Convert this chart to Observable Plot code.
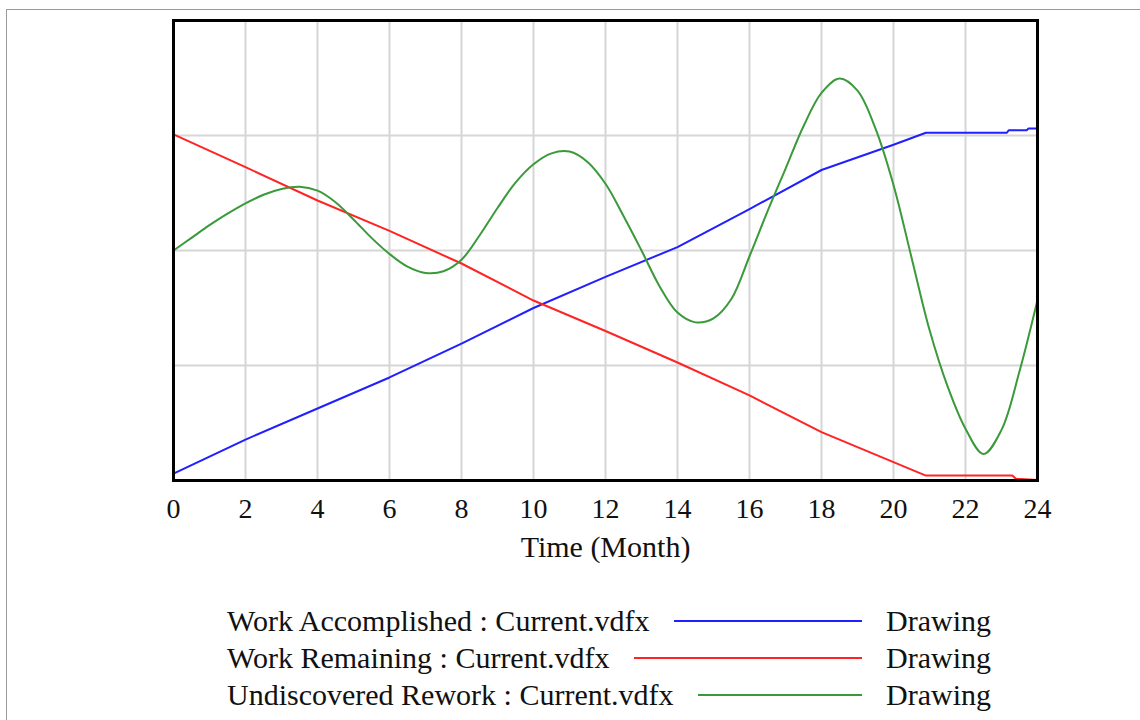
<!DOCTYPE html>
<html>
<head>
<meta charset="utf-8">
<script src="https://cdn.jsdelivr.net/npm/d3@7"></script>
<script src="https://cdn.jsdelivr.net/npm/@observablehq/plot@0.6"></script>
<style>
  html, body { margin: 0; padding: 0; background: #fff; width: 1140px; height: 720px; overflow: hidden; }
  #border { position: absolute; left: 6px; top: 9px; width: 1200px; height: 800px; border: 1.5px solid #9a9a9a; }
  #chart { position: absolute; left: 0; top: 0; }
  #legend { position: absolute; left: 227px; top: 602px; font-family: "Liberation Serif", "Times New Roman", serif; font-size: 30px; color: #111; }
  .row { display: flex; align-items: center; height: 37px; white-space: nowrap; }
  .lead { display: flex; align-items: center; width: 635px; flex: none; }
  .swatch { flex: 1; margin-left: 24px; height: 0; border-top: 2px solid; }
  .tail { margin-left: 24px; }
</style>
</head>
<body>
<div id="border"></div>
<div id="chart"></div>
<div id="legend"></div>
<script>
// ---- Data ----
const xTicks = [0, 2, 4, 6, 8, 10, 12, 14, 16, 18, 20, 22, 24];
const yGrid = [100, 200, 300];
const xLabel = "Time (Month)";

const seriesNames = [
  "Work Accomplished : Current.vdfx",
  "Work Remaining : Current.vdfx",
  "Undiscovered Rework : Current.vdfx"
];
const seriesColors = ["#1f1fff", "#ff2424", "#3a9a3a"];
const runLabel = "Drawing";

const accomplishedTime = [0, 2, 4, 6, 8, 10, 12, 14, 16, 18, 20, 20.9, 23.15, 23.2, 23.7, 23.75, 24];
const accomplishedValue = [6, 35.6, 62.6, 89.6, 119, 150, 177, 203, 236, 270, 292, 302.4, 302.4, 304.6, 304.6, 306, 306];

const remainingTime = [0, 2, 4, 6, 8, 10, 12, 14, 16, 18, 20, 20.9, 23.3, 23.4, 24];
const remainingValue = [301, 272.5, 243.5, 217, 188.7, 156.5, 130, 102.6, 74, 42, 16, 4.3, 4.3, 1.5, 0.5];

const reworkTime = [0, 0.5, 1, 1.5, 2, 2.5, 3, 3.5, 4, 4.5, 5, 5.5, 6, 6.5, 7, 7.5, 8, 8.5, 9, 9.5, 10, 10.5, 11, 11.5, 12, 12.5, 13, 13.5, 14, 14.5, 15, 15.5, 16, 16.5, 17, 17.5, 18, 18.5, 19, 19.5, 20, 20.5, 21, 21.5, 22, 22.5, 23, 23.5, 24];
const reworkValue = [200, 211, 222, 232, 241, 248.5, 253.5, 255.5, 252, 242, 227, 211, 197, 186, 180.5, 182, 192, 213, 237, 259, 275, 284.5, 286, 277, 258, 230, 200, 169, 146, 137.5, 141, 158, 195, 234, 271, 308, 337, 349.5, 339, 306, 257, 194, 131, 82, 45, 23, 44, 95, 157];

// ---- Build tables ----
const toRows = (ts, vs) => ts.map((t, i) => ({t, v: vs[i]}));
const accomplished = toRows(accomplishedTime, accomplishedValue);
const remaining = toRows(remainingTime, remainingValue);
const rework = toRows(reworkTime, reworkValue);

const serif = "'Liberation Serif', 'Times New Roman', serif";

const chart = Plot.plot({
  width: 1140,
  height: 570,
  marginLeft: 173,
  marginRight: 103,
  marginTop: 20,
  marginBottom: 90,
  style: {fontFamily: serif, background: "transparent", color: "#111"},
  x: {domain: [0, 24]},
  y: {domain: [0, 400], axis: null},
  marks: [
    Plot.gridX(xTicks.filter(d => d > 0 && d < 24), {stroke: "#d6d6d6", strokeOpacity: 1, strokeWidth: 2}),
    Plot.gridY(yGrid, {stroke: "#d6d6d6", strokeOpacity: 1, strokeWidth: 2}),
    Plot.line(accomplished, {x: "t", y: "v", stroke: seriesColors[0], strokeWidth: 2}),
    Plot.line(remaining, {x: "t", y: "v", stroke: seriesColors[1], strokeWidth: 2}),
    Plot.line(rework, {x: "t", y: "v", stroke: seriesColors[2], strokeWidth: 2, curve: "catmull-rom"}),
    Plot.frame({stroke: "#000", strokeWidth: 3}),
    Plot.axisX(xTicks, {
      tickSize: 0,
      tickPadding: 18,
      fontSize: 28,
      fill: "#111",
      label: null
    }),
    Plot.text([xLabel], {frameAnchor: "bottom", lineAnchor: "middle", dy: 67, fontSize: 30, fill: "#111", text: d => d})
  ]
});
document.getElementById("chart").appendChild(chart);

// ---- Legend ----
const legend = document.getElementById("legend");
seriesNames.forEach((name, i) => {
  const row = document.createElement("div");
  row.className = "row";
  const lead = document.createElement("div");
  lead.className = "lead";
  const txt = document.createElement("span");
  txt.textContent = name;
  const sw = document.createElement("span");
  sw.className = "swatch";
  sw.style.borderTopColor = seriesColors[i];
  lead.appendChild(txt);
  lead.appendChild(sw);
  const tail = document.createElement("span");
  tail.className = "tail";
  tail.textContent = runLabel;
  row.appendChild(lead);
  row.appendChild(tail);
  legend.appendChild(row);
});
</script>
</body>
</html>
